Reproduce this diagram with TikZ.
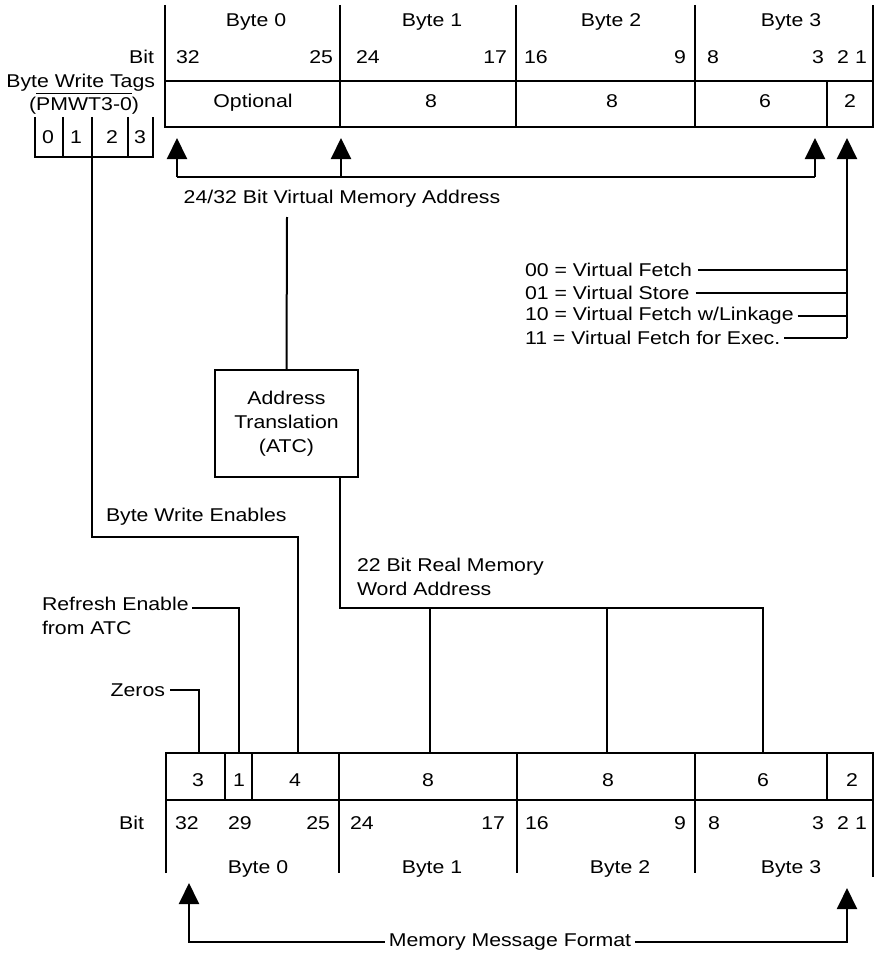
\documentclass[tikz,border=0pt]{standalone}
\usepackage{fontspec}
\setmainfont[FakeStretch=1.15]{Liberation Sans}
\usetikzlibrary{arrows.meta}
\newcommand\myovl[1]{\setbox0\hbox{#1}\rlap{\rule[16.5pt]{\wd0}{1.4pt}}\box0}
\begin{document}
\begin{tikzpicture}[x=1pt,y=-1pt,line width=2pt,
  font=\fontsize{18.5}{24}\selectfont,
  txt/.style={inner sep=0pt,outer sep=0pt},
  arr/.style={-{Triangle[width=20pt,length=21pt]}}]
\useasboundingbox (0,0) rectangle (879,955);

% ---------- top register ----------
\draw (165,5) -- (165,127) -- (873,127) -- (873,5);
\draw (165,81) -- (873,81);
\foreach \x in {340,516,695} \draw (\x,5) -- (\x,127);
\draw (827,81) -- (827,127);

\node[txt,anchor=base] (tb0) at (256,27) {Byte 0};
\node[txt,anchor=base] (tb1) at (432,27) {Byte 1};
\node[txt,anchor=base] (tb2) at (611,27) {Byte 2};
\node[txt,anchor=base] (tb3) at (791,27) {Byte 3};

\node[txt,anchor=base east] (tbit) at (154,64) {Bit};
\node[txt,anchor=base west] (t32) at (176,64) {32};
\node[txt,anchor=base east] (t25) at (333,64) {25};
\node[txt,anchor=base west] (t24) at (356,64) {24};
\node[txt,anchor=base east] (t17) at (507,64) {17};
\node[txt,anchor=base west] (t16) at (524,64) {16};
\node[txt,anchor=base east] (t9) at (686,64) {9};
\node[txt,anchor=base west] (t8) at (707,64) {8};
\node[txt,anchor=base] (t3) at (818,64) {3};
\node[txt,anchor=base] (t2) at (843,64) {2};
\node[txt,anchor=base] (t1) at (861,64) {1};

\node[txt,anchor=base] (topt) at (253,108) {Optional};
\node[txt,anchor=base] (tf1) at (431,108) {8};
\node[txt,anchor=base] (tf2) at (612,108) {8};
\node[txt,anchor=base] (tf3) at (765,108) {6};
\node[txt,anchor=base] (tf4) at (850,108) {2};

% ---------- byte write tags ----------
\node[txt,anchor=base east] (bwt) at (155,88) {Byte Write Tags};
\node[txt,anchor=base east] (pmwt) at (139,111) {(\myovl{PMWT3-0})};
\draw (35,117) -- (35,157) -- (153,157) -- (153,117);
\foreach \x in {63,92,128} \draw (\x,117) -- (\x,157);
\node[txt,anchor=base] (g0) at (48,143) {0};
\node[txt,anchor=base] (g1) at (76,143) {1};
\node[txt,anchor=base] (g2) at (112,143) {2};
\node[txt,anchor=base] (g3) at (140,143) {3};
\coordinate (tagout) at (92,157);

% ---------- virtual address arrows ----------
\coordinate (va0) at (177,138);
\coordinate (va1) at (341,138);
\coordinate (va2) at (815,138);
\coordinate (va3) at (847,138);
\draw (va0 |- 0,177) -- (va2 |- 0,177);
\draw[arr] (va0 |- 0,177) -- (va0);
\draw[arr] (va1 |- 0,177) -- (va1);
\draw[arr] (va2 |- 0,177) -- (va2);

\node[txt,anchor=center] (vma) at (342,199) {24/32 Bit Virtual Memory Address};

% ---------- function codes ----------
\node[txt,anchor=west] (fc0) at (525,270) {00 = Virtual Fetch};
\node[txt,anchor=west] (fc1) at (525,293) {01 = Virtual Store};
\node[txt,anchor=west] (fc2) at (525,316) {10 = Virtual Fetch w/Linkage};
\node[txt,anchor=west] (fc3) at (525,338) {11 = Virtual Fetch for Exec.};
\coordinate (fcb) at (847,338);
\draw[arr] (fcb) -- (va3);
\draw ([xshift=6pt]fc0.east) -- (fc0.east -| fcb);
\draw ([xshift=6pt]fc1.east) -- (fc1.east -| fcb);
\draw ([xshift=4pt]fc2.east) -- (fc2.east -| fcb);
\draw ([xshift=4pt]fc3.east) -- (fc3.east -| fcb);

% ---------- ATC ----------
\node[draw,minimum width=143pt,minimum height=107pt,align=center,inner sep=0pt]
  (atc) at (286.5,423.5) {Address\\Translation\\(ATC)};
\coordinate (vmad) at (287,217);
\draw (vmad) -- (atc.north);

% ---------- real memory address ----------
\coordinate (rm0) at (340,608);
\coordinate (rm3) at (763,608);
\draw (atc.south -| rm0) -- (rm0) -- (rm3) -- (763,753);
\draw (430,608) -- (430,753);
\draw (607,608) -- (607,753);
\node[txt,anchor=west,align=left] (rma) at (357,577) {22 Bit Real Memory\\Word Address};

% ---------- byte write enables ----------
\node[txt,anchor=west] (bwe) at (106,517) {Byte Write Enables};
\draw (tagout) -- (92,537) -- (298,537) -- (298,753);

% ---------- refresh / zeros ----------
\node[txt,anchor=west,align=left] (ref) at (42,616) {Refresh Enable\\from ATC};
\draw (192,608) -- (239,608) -- (239,753);
\node[txt,anchor=east] (zer) at (165,690) {Zeros};
\draw ([xshift=5pt]zer.east) -- (199,690) -- (199,753);

% ---------- bottom register ----------
\draw (166,873) -- (166,753) -- (873,753) -- (873,877);
\draw (166,800) -- (873,800);
\foreach \x in {339,517,695} \draw (\x,753) -- (\x,873);
\foreach \x in {225,252,827} \draw (\x,753) -- (\x,800);

\node[txt,anchor=base] (bf0) at (198,786) {3};
\node[txt,anchor=base] (bf1) at (239,786) {1};
\node[txt,anchor=base] (bf2) at (295,786) {4};
\node[txt,anchor=base] (bf3) at (428,786) {8};
\node[txt,anchor=base] (bf4) at (608,786) {8};
\node[txt,anchor=base] (bf5) at (763,786) {6};
\node[txt,anchor=base] (bf6) at (852,786) {2};

\node[txt,anchor=base east] (bbit) at (144,829) {Bit};
\node[txt,anchor=base west] (b32) at (175,829) {32};
\node[txt,anchor=base west] (b29) at (228,829) {29};
\node[txt,anchor=base east] (b25) at (330,829) {25};
\node[txt,anchor=base west] (b24) at (350,829) {24};
\node[txt,anchor=base east] (b17) at (505,829) {17};
\node[txt,anchor=base west] (b16) at (525,829) {16};
\node[txt,anchor=base east] (b9) at (686,829) {9};
\node[txt,anchor=base west] (b8) at (708,829) {8};
\node[txt,anchor=base] (b3) at (818,829) {3};
\node[txt,anchor=base] (b2) at (843,829) {2};
\node[txt,anchor=base] (b1) at (861,829) {1};

\node[txt,anchor=base] (bb0) at (258,873) {Byte 0};
\node[txt,anchor=base] (bb1) at (432,873) {Byte 1};
\node[txt,anchor=base] (bb2) at (620,873) {Byte 2};
\node[txt,anchor=base] (bb3) at (791,873) {Byte 3};

% ---------- memory message format ----------
\node[txt,inner xsep=4pt] (mmf) at (510,942) {Memory Message Format};
\coordinate (mm0) at (189,883);
\coordinate (mm1) at (847,888);
\draw[arr] (mmf.west) -- (mm0 |- mmf.west) -- (mm0);
\draw[arr] (mmf.east) -- (mm1 |- mmf.east) -- (mm1);
\end{tikzpicture}
\end{document}
